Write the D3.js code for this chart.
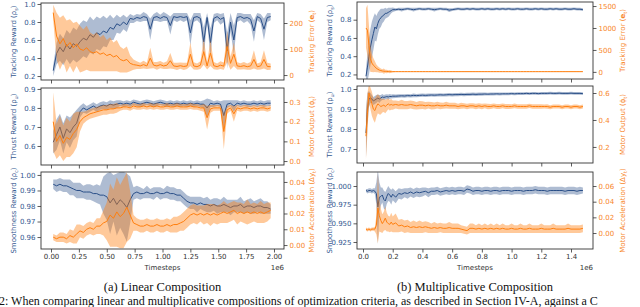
<!DOCTYPE html>
<html>
<head>
<meta charset="utf-8">
<script src="https://d3js.org/d3.v7.min.js"></script>
<style>
  body { margin: 0; background: #fff; }
  svg { display: block; }
  text { font-family: "DejaVu Sans", sans-serif; }
</style>
</head>
<body>
<svg id="chart" width="640" height="307"></svg>
<script>
// ---- sample grids (timesteps, in 1e6) ----
const linSteps = d3.range(0.02, 1.98, 0.03);                                        // 66 samples
const mulSteps = d3.range(0.02, 0.205, 0.01).concat(d3.range(0.22, 1.49, 0.02));   // 83 samples

// ---- (a) linear composition ----
const linTrackReward = [
  0.26, 0.45, 0.52, 0.47, 0.55, 0.50, 0.56, 0.53, 0.58, 0.62,
  0.60, 0.66, 0.63, 0.68, 0.66, 0.70, 0.68, 0.74, 0.72, 0.78,
  0.76, 0.80, 0.77, 0.84, 0.83, 0.85, 0.84, 0.86, 0.85, 0.72,
  0.85, 0.86, 0.84, 0.86, 0.85, 0.76, 0.86, 0.85, 0.86, 0.85,
  0.86, 0.68, 0.85, 0.86, 0.84, 0.58, 0.85, 0.57, 0.84, 0.86,
  0.83, 0.85, 0.48, 0.80, 0.60, 0.85, 0.86, 0.84, 0.85, 0.83,
  0.70, 0.86, 0.84, 0.72, 0.85, 0.86];
const linTrackRewardBand = [
  0.06, 0.12, 0.15, 0.15, 0.16, 0.17, 0.18, 0.18, 0.20, 0.20,
  0.20, 0.20, 0.19, 0.18, 0.18, 0.17, 0.16, 0.14, 0.12, 0.10,
  0.09, 0.08, 0.08, 0.05, 0.04, 0.04, 0.04, 0.05, 0.04, 0.12,
  0.04, 0.05, 0.04, 0.05, 0.04, 0.10, 0.04, 0.05, 0.04, 0.05,
  0.04, 0.14, 0.05, 0.04, 0.06, 0.16, 0.05, 0.16, 0.05, 0.04,
  0.06, 0.05, 0.20, 0.10, 0.16, 0.05, 0.04, 0.05, 0.04, 0.06,
  0.12, 0.04, 0.05, 0.12, 0.05, 0.04];
const linTrackError = [
  240, 150, 120, 140, 110, 125, 105, 120, 100, 95,
  105, 90, 85, 90, 80, 85, 75, 80, 70, 75,
  60, 55, 60, 45, 40, 38, 35, 40, 35, 65,
  38, 35, 40, 35, 38, 55, 35, 33, 36, 33,
  35, 80, 35, 32, 38, 90, 35, 85, 36, 32,
  38, 34, 110, 45, 80, 35, 33, 36, 32, 35,
  60, 32, 35, 60, 33, 32];
const linTrackErrorBand = [
  30, 90, 100, 90, 100, 90, 95, 85, 90, 80,
  85, 75, 70, 75, 65, 70, 60, 65, 55, 60,
  50, 45, 50, 30, 20, 15, 12, 15, 12, 40,
  12, 15, 14, 12, 15, 30, 12, 14, 12, 14,
  12, 45, 14, 12, 15, 50, 14, 50, 14, 12,
  15, 14, 60, 25, 45, 14, 12, 14, 12, 15,
  35, 12, 14, 35, 14, 12];
const linThrustReward = [
  0.62, 0.66, 0.70, 0.64, 0.69, 0.67, 0.70, 0.72, 0.78, 0.80,
  0.79, 0.80, 0.81, 0.80, 0.81, 0.815, 0.81, 0.82, 0.815, 0.82,
  0.825, 0.82, 0.825, 0.82, 0.83, 0.825, 0.82, 0.825, 0.83, 0.825,
  0.82, 0.825, 0.83, 0.825, 0.82, 0.825, 0.82, 0.825, 0.82, 0.825,
  0.82, 0.825, 0.82, 0.825, 0.82, 0.82, 0.80, 0.825, 0.82, 0.825,
  0.82, 0.76, 0.82, 0.825, 0.81, 0.825, 0.82, 0.825, 0.82, 0.82,
  0.825, 0.82, 0.825, 0.82, 0.825, 0.825];
const linThrustRewardBand = [
  0.06, 0.08, 0.07, 0.08, 0.07, 0.08, 0.07, 0.07, 0.03, 0.025,
  0.02, 0.02, 0.02, 0.02, 0.02, 0.02, 0.02, 0.02, 0.02, 0.02,
  0.015, 0.015, 0.015, 0.015, 0.015, 0.015, 0.015, 0.015, 0.015, 0.015,
  0.015, 0.015, 0.015, 0.015, 0.015, 0.015, 0.015, 0.015, 0.015, 0.015,
  0.015, 0.015, 0.015, 0.015, 0.015, 0.02, 0.05, 0.02, 0.015, 0.015,
  0.015, 0.08, 0.02, 0.015, 0.03, 0.015, 0.015, 0.015, 0.015, 0.015,
  0.015, 0.015, 0.015, 0.015, 0.015, 0.015];
const linMotorOutput = [
  0.20, 0.10, 0.13, 0.09, 0.12, 0.11, 0.14, 0.16, 0.20, 0.22,
  0.23, 0.24, 0.245, 0.25, 0.255, 0.26, 0.26, 0.265, 0.265, 0.27,
  0.27, 0.275, 0.275, 0.27, 0.28, 0.275, 0.275, 0.28, 0.275, 0.28,
  0.275, 0.28, 0.275, 0.275, 0.28, 0.275, 0.275, 0.28, 0.275, 0.275,
  0.275, 0.28, 0.275, 0.275, 0.27, 0.27, 0.22, 0.265, 0.27, 0.27,
  0.27, 0.15, 0.26, 0.27, 0.24, 0.27, 0.265, 0.27, 0.27, 0.265,
  0.27, 0.265, 0.27, 0.27, 0.265, 0.27];
const linMotorOutputBand = [
  0.15, 0.09, 0.10, 0.09, 0.10, 0.09, 0.10, 0.09, 0.05, 0.03,
  0.025, 0.025, 0.025, 0.025, 0.025, 0.025, 0.025, 0.025, 0.025, 0.025,
  0.015, 0.015, 0.015, 0.015, 0.015, 0.015, 0.015, 0.015, 0.015, 0.015,
  0.015, 0.015, 0.015, 0.015, 0.015, 0.015, 0.015, 0.015, 0.015, 0.015,
  0.015, 0.015, 0.015, 0.015, 0.015, 0.02, 0.06, 0.02, 0.015, 0.015,
  0.015, 0.09, 0.02, 0.015, 0.04, 0.015, 0.015, 0.015, 0.015, 0.015,
  0.015, 0.015, 0.015, 0.015, 0.015, 0.015];
const linSmoothReward = [
  0.994, 0.993, 0.994, 0.993, 0.993, 0.992, 0.991, 0.990, 0.990, 0.989,
  0.989, 0.989, 0.988, 0.988, 0.987, 0.987, 0.986, 0.982, 0.985, 0.981,
  0.984, 0.982, 0.979, 0.984, 0.988, 0.989, 0.988, 0.988, 0.989, 0.988,
  0.988, 0.989, 0.988, 0.988, 0.989, 0.988, 0.988, 0.987, 0.987, 0.985,
  0.983, 0.982, 0.982, 0.981, 0.982, 0.981, 0.981, 0.980, 0.981, 0.980,
  0.980, 0.981, 0.980, 0.979, 0.980, 0.980, 0.981, 0.979, 0.980, 0.980,
  0.979, 0.980, 0.980, 0.979, 0.979, 0.978];
const linSmoothRewardBand = [
  0.003, 0.004, 0.004, 0.004, 0.004, 0.005, 0.004, 0.005, 0.005, 0.004,
  0.005, 0.005, 0.005, 0.006, 0.006, 0.012, 0.015, 0.020, 0.015, 0.020,
  0.018, 0.020, 0.022, 0.015, 0.004, 0.004, 0.004, 0.003, 0.004, 0.003,
  0.004, 0.003, 0.004, 0.003, 0.004, 0.004, 0.004, 0.004, 0.004, 0.004,
  0.004, 0.004, 0.004, 0.005, 0.004, 0.004, 0.005, 0.004, 0.004, 0.005,
  0.004, 0.005, 0.004, 0.005, 0.004, 0.004, 0.005, 0.004, 0.004, 0.005,
  0.004, 0.004, 0.005, 0.004, 0.004, 0.003];
const linMotorAccel = [
  0.005, 0.004, 0.005, 0.005, 0.004, 0.006, 0.005, 0.007, 0.009, 0.008,
  0.010, 0.011, 0.010, 0.012, 0.012, 0.014, 0.015, 0.019, 0.017, 0.021,
  0.018, 0.020, 0.024, 0.019, 0.014, 0.013, 0.012, 0.012, 0.013, 0.012,
  0.012, 0.013, 0.012, 0.012, 0.013, 0.012, 0.013, 0.013, 0.014, 0.015,
  0.017, 0.019, 0.020, 0.019, 0.020, 0.019, 0.020, 0.019, 0.020, 0.019,
  0.020, 0.021, 0.020, 0.021, 0.022, 0.020, 0.021, 0.020, 0.021, 0.020,
  0.021, 0.020, 0.021, 0.020, 0.021, 0.022];
const linMotorAccelBand = [
  0.002, 0.002, 0.003, 0.003, 0.003, 0.004, 0.004, 0.006, 0.004, 0.004,
  0.004, 0.004, 0.004, 0.005, 0.005, 0.008, 0.012, 0.020, 0.018, 0.022,
  0.020, 0.022, 0.022, 0.015, 0.005, 0.004, 0.004, 0.004, 0.004, 0.004,
  0.004, 0.004, 0.004, 0.004, 0.004, 0.004, 0.005, 0.005, 0.005, 0.006,
  0.006, 0.006, 0.006, 0.006, 0.005, 0.006, 0.006, 0.007, 0.006, 0.006,
  0.006, 0.007, 0.006, 0.006, 0.006, 0.007, 0.006, 0.006, 0.008, 0.006,
  0.006, 0.006, 0.007, 0.006, 0.006, 0.005];

// ---- (b) multiplicative composition ----
const mulTrackReward = [
  0.18, 0.28, 0.40, 0.50, 0.58, 0.65, 0.72, 0.70, 0.76, 0.80,
  0.82, 0.84, 0.85, 0.87, 0.87, 0.88, 0.89, 0.90, 0.91,
  0.91, 0.915, 0.91, 0.915, 0.92, 0.915, 0.91, 0.915, 0.92, 0.915,
  0.915, 0.92, 0.915, 0.91, 0.915, 0.92, 0.915, 0.915, 0.905, 0.91,
  0.915, 0.92, 0.915, 0.915, 0.92, 0.915, 0.92, 0.915, 0.915, 0.92,
  0.915, 0.92, 0.915, 0.915, 0.92, 0.915, 0.92, 0.915, 0.92, 0.915,
  0.915, 0.92, 0.915, 0.915, 0.92, 0.915, 0.915, 0.92, 0.915, 0.92,
  0.915, 0.915, 0.92, 0.915, 0.92, 0.915, 0.915, 0.92, 0.915, 0.915,
  0.92, 0.915, 0.915, 0.91];
const mulTrackRewardBand = [
  0.08, 0.15, 0.20, 0.20, 0.20, 0.18, 0.15, 0.14, 0.12, 0.10,
  0.10, 0.08, 0.07, 0.06, 0.05, 0.05, 0.04, 0.03, 0.025,
  0.015, 0.015, 0.02, 0.015, 0.015, 0.015, 0.02, 0.015, 0.015, 0.015,
  0.015, 0.015, 0.015, 0.02, 0.015, 0.015, 0.015, 0.015, 0.02, 0.015,
  0.015, 0.015, 0.015, 0.015, 0.015, 0.015, 0.015, 0.015, 0.015, 0.015,
  0.015, 0.015, 0.015, 0.015, 0.015, 0.015, 0.015, 0.015, 0.015, 0.015,
  0.015, 0.015, 0.015, 0.015, 0.015, 0.015, 0.015, 0.015, 0.015, 0.015,
  0.015, 0.015, 0.015, 0.015, 0.015, 0.015, 0.015, 0.015, 0.015, 0.015,
  0.015, 0.015, 0.015, 0.015];
const mulTrackError = [
  1000, 950, 600, 300, 200, 150, 120, 80, 60, 40,
  30, 20, 15, 12, 10, 8, 6, 5, 5,
  5, 5, 5, 5, 5, 5, 5, 5, 5, 5,
  5, 5, 5, 5, 5, 5, 5, 5, 5, 5,
  5, 5, 5, 5, 5, 5, 5, 5, 5, 5,
  5, 5, 5, 5, 5, 5, 5, 5, 5, 5,
  5, 5, 5, 5, 5, 5, 5, 5, 5, 5,
  5, 5, 5, 5, 5, 5, 5, 5, 5, 5,
  5, 5, 5, 5];
const mulTrackErrorBand = [
  450, 580, 450, 300, 200, 160, 120, 90, 70, 60,
  50, 40, 60, 35, 40, 30, 35, 25, 15,
  6, 5, 5, 5, 5, 5, 5, 5, 5, 5,
  5, 5, 5, 5, 5, 5, 5, 5, 5, 5,
  5, 5, 5, 5, 5, 5, 5, 5, 5, 5,
  5, 5, 5, 5, 5, 5, 5, 5, 5, 5,
  5, 5, 5, 5, 5, 5, 5, 5, 5, 5,
  5, 5, 5, 5, 5, 5, 5, 5, 5, 5,
  5, 5, 5, 5];
const mulThrustReward = [
  0.78, 0.90, 0.95, 0.955, 0.95, 0.94, 0.945, 0.95, 0.955, 0.95,
  0.955, 0.96, 0.958, 0.96, 0.962, 0.96, 0.963, 0.962, 0.964,
  0.964, 0.965, 0.966, 0.965, 0.967, 0.966, 0.968, 0.967, 0.968, 0.969,
  0.968, 0.969, 0.970, 0.969, 0.970, 0.971, 0.970, 0.971, 0.972, 0.971,
  0.972, 0.972, 0.973, 0.972, 0.973, 0.973, 0.974, 0.973, 0.974, 0.974,
  0.975, 0.974, 0.975, 0.975, 0.976, 0.975, 0.976, 0.976, 0.976, 0.977,
  0.976, 0.977, 0.977, 0.977, 0.978, 0.977, 0.978, 0.978, 0.977, 0.978,
  0.978, 0.978, 0.979, 0.978, 0.978, 0.979, 0.978, 0.978, 0.978, 0.979,
  0.978, 0.978, 0.978, 0.977];
const mulThrustRewardBand = [
  0.12, 0.08, 0.04, 0.025, 0.02, 0.02, 0.02, 0.02, 0.018, 0.02,
  0.015, 0.015, 0.012, 0.012, 0.012, 0.012, 0.012, 0.010, 0.010,
  0.009, 0.009, 0.008, 0.009, 0.008, 0.008, 0.009, 0.008, 0.008, 0.008,
  0.008, 0.008, 0.008, 0.008, 0.008, 0.008, 0.008, 0.008, 0.008, 0.008,
  0.008, 0.008, 0.008, 0.008, 0.008, 0.008, 0.008, 0.008, 0.008, 0.008,
  0.007, 0.007, 0.007, 0.007, 0.007, 0.007, 0.007, 0.007, 0.007, 0.007,
  0.007, 0.007, 0.007, 0.007, 0.007, 0.007, 0.007, 0.007, 0.007, 0.007,
  0.007, 0.007, 0.007, 0.007, 0.007, 0.007, 0.007, 0.007, 0.007, 0.007,
  0.007, 0.007, 0.007, 0.007];
const mulMotorOutput = [
  0.28, 0.45, 0.60, 0.56, 0.52, 0.48, 0.47, 0.50, 0.52, 0.51,
  0.50, 0.505, 0.51, 0.50, 0.51, 0.52, 0.51, 0.515, 0.51,
  0.515, 0.51, 0.515, 0.51, 0.51, 0.515, 0.51, 0.505, 0.51, 0.51,
  0.505, 0.51, 0.505, 0.505, 0.51, 0.505, 0.505, 0.51, 0.505, 0.505,
  0.505, 0.50, 0.505, 0.505, 0.50, 0.505, 0.505, 0.50, 0.505, 0.50,
  0.505, 0.50, 0.50, 0.505, 0.50, 0.50, 0.505, 0.50, 0.50, 0.50,
  0.505, 0.50, 0.50, 0.50, 0.50, 0.505, 0.50, 0.50, 0.50, 0.50,
  0.50, 0.50, 0.495, 0.50, 0.50, 0.50, 0.495, 0.50, 0.50, 0.495,
  0.50, 0.50, 0.495, 0.50];
const mulMotorOutputBand = [
  0.17, 0.15, 0.07, 0.08, 0.09, 0.08, 0.09, 0.08, 0.07, 0.07,
  0.06, 0.05, 0.05, 0.05, 0.045, 0.04, 0.04, 0.04, 0.035,
  0.03, 0.03, 0.035, 0.03, 0.03, 0.03, 0.03, 0.028, 0.03, 0.028,
  0.028, 0.025, 0.028, 0.025, 0.025, 0.025, 0.022, 0.025, 0.022, 0.022,
  0.022, 0.02, 0.022, 0.02, 0.02, 0.02, 0.02, 0.02, 0.02, 0.02,
  0.018, 0.02, 0.018, 0.018, 0.018, 0.018, 0.018, 0.018, 0.018, 0.016,
  0.018, 0.016, 0.016, 0.016, 0.016, 0.016, 0.016, 0.016, 0.016, 0.016,
  0.015, 0.016, 0.015, 0.015, 0.015, 0.015, 0.015, 0.015, 0.015, 0.015,
  0.015, 0.015, 0.015, 0.015];
const mulSmoothReward = [
  0.994, 0.993, 0.994, 0.994, 0.993, 0.994, 0.993, 0.990, 0.972, 0.985,
  0.986, 0.988, 0.982, 0.980, 0.986, 0.990, 0.988, 0.985, 0.989,
  0.985, 0.990, 0.989, 0.991, 0.990, 0.992, 0.990, 0.992, 0.991, 0.992,
  0.993, 0.991, 0.993, 0.993, 0.994, 0.992, 0.993, 0.994, 0.993, 0.994,
  0.993, 0.994, 0.994, 0.993, 0.996, 0.995, 0.993, 0.994, 0.994, 0.993,
  0.994, 0.994, 0.993, 0.994, 0.994, 0.993, 0.994, 0.994, 0.994, 0.993,
  0.994, 0.994, 0.994, 0.993, 0.994, 0.994, 0.994, 0.995, 0.994, 0.994,
  0.994, 0.993, 0.994, 0.994, 0.994, 0.994, 0.994, 0.993, 0.994, 0.994,
  0.994, 0.993, 0.994, 0.994];
const mulSmoothRewardBand = [
  0.002, 0.003, 0.003, 0.003, 0.003, 0.003, 0.004, 0.015, 0.050, 0.020,
  0.012, 0.010, 0.012, 0.012, 0.010, 0.010, 0.009, 0.010, 0.008,
  0.008, 0.007, 0.007, 0.006, 0.007, 0.006, 0.006, 0.006, 0.006, 0.006,
  0.005, 0.006, 0.005, 0.005, 0.005, 0.005, 0.005, 0.005, 0.005, 0.005,
  0.005, 0.005, 0.005, 0.005, 0.005, 0.005, 0.005, 0.005, 0.005, 0.005,
  0.005, 0.005, 0.005, 0.005, 0.005, 0.005, 0.005, 0.005, 0.005, 0.005,
  0.005, 0.005, 0.005, 0.005, 0.005, 0.005, 0.005, 0.005, 0.005, 0.005,
  0.005, 0.005, 0.005, 0.005, 0.005, 0.005, 0.005, 0.005, 0.005, 0.005,
  0.005, 0.005, 0.005, 0.004];
const mulMotorAccel = [
  0.005, 0.004, 0.005, 0.004, 0.005, 0.005, 0.005, 0.010, 0.032, 0.022,
  0.016, 0.012, 0.015, 0.019, 0.014, 0.012, 0.011, 0.014, 0.011,
  0.013, 0.009, 0.010, 0.008, 0.009, 0.007, 0.008, 0.007, 0.008, 0.007,
  0.008, 0.007, 0.006, 0.007, 0.006, 0.007, 0.006, 0.006, 0.007, 0.006,
  0.006, 0.006, 0.005, 0.004, 0.003, 0.006, 0.006, 0.005, 0.006, 0.005,
  0.006, 0.005, 0.006, 0.005, 0.006, 0.005, 0.006, 0.005, 0.005, 0.006,
  0.005, 0.005, 0.006, 0.005, 0.005, 0.006, 0.005, 0.005, 0.005, 0.006,
  0.005, 0.005, 0.005, 0.006, 0.005, 0.005, 0.005, 0.005, 0.006, 0.005,
  0.005, 0.005, 0.005, 0.006];
const mulMotorAccelBand = [
  0.002, 0.002, 0.002, 0.002, 0.002, 0.002, 0.003, 0.012, 0.045, 0.020,
  0.015, 0.012, 0.012, 0.015, 0.012, 0.010, 0.010, 0.012, 0.010,
  0.012, 0.008, 0.008, 0.008, 0.008, 0.007, 0.008, 0.007, 0.008, 0.007,
  0.007, 0.007, 0.006, 0.007, 0.006, 0.006, 0.006, 0.006, 0.007, 0.006,
  0.006, 0.006, 0.005, 0.005, 0.005, 0.006, 0.006, 0.005, 0.006, 0.005,
  0.006, 0.005, 0.006, 0.005, 0.006, 0.005, 0.006, 0.005, 0.005, 0.006,
  0.005, 0.005, 0.006, 0.005, 0.005, 0.006, 0.005, 0.005, 0.005, 0.006,
  0.005, 0.005, 0.005, 0.006, 0.005, 0.005, 0.005, 0.005, 0.006, 0.005,
  0.005, 0.005, 0.005, 0.005];

// ---- axis titles ----
const labTrackReward = { pre: "Tracking Reward (", sym: "\u03c1", sub: "s" };
const labTrackError  = { pre: "Tracking Error (", sym: "e", sub: "t", bold: true };
const labThrust      = { pre: "Thrust Reward (", sym: "\u03c1", sub: "u" };
const labMotorOut    = { pre: "Motor Output (", sym: "\u03d5", sub: "t" };
const labSmooth      = { pre: "Smoothness Reward (", sym: "\u03c1", sub: "c" };
const labMotorAccel  = { pre: "Motor Acceleration (", sym: "\u0394y", sub: "t" };

// ---- colours ----
const BLUE = "#2a4f88";
const BLUE_TEXT = "#33578f";
const ORANGE = "#ff7f0e";
const ORANGE_TEXT = "#f8862a";
const FONT = 7;

// ---- layout of both sub-figures ----
const figures = [
  {
    steps: linSteps, x0: 41, x1: 284, xDomain: [-0.0897, 2.0897],
    xTicks: [0, 0.25, 0.5, 0.75, 1.0, 1.25, 1.5, 1.75, 2.0], xFmt: d3.format(".2f"),
    tops: [3, 88, 172], height: 77, leftTitleX: 16, rightTitleX: 314,
    caption: "(a) Linear Composition",
    panels: [
      { left:  { mean: linTrackReward, band: linTrackRewardBand, domain: [0.156, 1.011], ticks: [0.2, 0.4, 0.6, 0.8, 1.0], fmt: ".1f", label: labTrackReward },
        right: { mean: linTrackError, band: linTrackErrorBand, domain: [-19, 277], ticks: [0, 100, 200], fmt: "d", label: labTrackError } },
      { left:  { mean: linThrustReward, band: linThrustRewardBand, domain: [0.5, 0.905], ticks: [0.6, 0.7, 0.8, 0.9], fmt: ".1f", label: labThrust },
        right: { mean: linMotorOutput, band: linMotorOutputBand, domain: [-0.02, 0.371], ticks: [0.0, 0.1, 0.2, 0.3], fmt: ".1f", label: labMotorOut } },
      { left:  { mean: linSmoothReward, band: linSmoothRewardBand, domain: [0.9523, 1.0019], ticks: [0.96, 0.97, 0.98, 0.99, 1.0], fmt: ".2f", label: labSmooth },
        right: { mean: linMotorAccel, band: linMotorAccelBand, domain: [-0.0025, 0.0463], ticks: [0, 0.01, 0.02, 0.03, 0.04], fmt: ".2f", label: labMotorAccel } }
    ]
  },
  {
    steps: mulSteps, x0: 357, x1: 593, xDomain: [-0.0404, 1.548],
    xTicks: [0, 0.2, 0.4, 0.6, 0.8, 1.0, 1.2, 1.4], xFmt: d3.format(".1f"),
    tops: [2, 86, 172], height: 77, leftTitleX: 332, rightTitleX: 625,
    caption: "(b) Multiplicative Composition",
    panels: [
      { left:  { mean: mulTrackReward, band: mulTrackRewardBand, domain: [0.15, 0.994], ticks: [0.2, 0.4, 0.6, 0.8], fmt: ".1f", label: labTrackReward },
        right: { mean: mulTrackError, band: mulTrackErrorBand, domain: [-162, 1592], ticks: [0, 500, 1000, 1500], fmt: "d", label: labTrackError } },
      { left:  { mean: mulThrustReward, band: mulThrustRewardBand, domain: [0.63, 1.015], ticks: [0.7, 0.8, 0.9, 1.0], fmt: ".1f", label: labThrust },
        right: { mean: mulMotorOutput, band: mulMotorOutputBand, domain: [0.081, 0.652], ticks: [0.2, 0.4, 0.6], fmt: ".1f", label: labMotorOut } },
      { left:  { mean: mulSmoothReward, band: mulSmoothRewardBand, domain: [0.9156, 1.0188], ticks: [0.925, 0.95, 0.975, 1.0], fmt: ".3f", label: labSmooth },
        right: { mean: mulMotorAccel, band: mulMotorAccelBand, domain: [-0.0204, 0.0779], ticks: [0, 0.02, 0.04, 0.06], fmt: ".2f", label: labMotorAccel } }
    ]
  }
];

const svg = d3.select("#chart");

function axisTitle(x, cy, lab, color) {
  const t = svg.append("text")
      .attr("transform", `translate(${x},${cy}) rotate(-90)`)
      .attr("text-anchor", "middle")
      .attr("fill", color)
      .style("font-size", FONT + "px");
  t.append("tspan").text(lab.pre);
  t.append("tspan").text(lab.sym).style("font-weight", lab.bold ? "bold" : null);
  t.append("tspan").text(lab.sub).attr("dy", 1.6).style("font-size", "5px");
  t.append("tspan").text(")").attr("dy", -1.6);
}

function styleAxis(g, color) {
  g.select(".domain").remove();
  g.selectAll(".tick line").attr("stroke", "#333").attr("stroke-width", 0.8);
  g.selectAll(".tick text").attr("fill", color).style("font-size", FONT + "px")
      .style("font-family", '"DejaVu Sans", sans-serif');
}

let clipId = 0;
figures.forEach(fig => {
  const x = d3.scaleLinear().domain(fig.xDomain).range([fig.x0, fig.x1]);

  fig.panels.forEach((p, k) => {
    const top = fig.tops[k];
    const bottom = top + fig.height;
    const id = "clip" + (clipId++);
    svg.append("clipPath").attr("id", id)
      .append("rect").attr("x", fig.x0).attr("y", top)
      .attr("width", fig.x1 - fig.x0).attr("height", fig.height);

    const plot = svg.append("g").attr("clip-path", `url(#${id})`);

    [["left", BLUE, 0.38], ["right", ORANGE, 0.42]].forEach(([side, color, alpha]) => {
      const s = p[side];
      const y = d3.scaleLinear().domain(s.domain).range([bottom, top]);
      const rows = fig.steps.map((t, i) => ({ t, m: s.mean[i], b: s.band[i] }));

      plot.append("path")
        .datum(rows)
        .attr("fill", color)
        .attr("fill-opacity", alpha)
        .attr("d", d3.area().x(d => x(d.t)).y0(d => y(d.m - d.b)).y1(d => y(d.m + d.b)));

      plot.append("path")
        .datum(rows)
        .attr("fill", "none")
        .attr("stroke", color)
        .attr("stroke-width", 1.0)
        .attr("d", d3.line().x(d => x(d.t)).y(d => y(d.m)));

      const axis = side === "left"
        ? d3.axisLeft(y).tickValues(s.ticks).tickFormat(d3.format(s.fmt)).tickSize(3.5).tickPadding(2)
        : d3.axisRight(y).tickValues(s.ticks).tickFormat(d3.format(s.fmt)).tickSize(3.5).tickPadding(2);
      const g = svg.append("g")
        .attr("transform", `translate(${side === "left" ? fig.x0 : fig.x1},0)`)
        .call(axis);
      styleAxis(g, side === "left" ? BLUE_TEXT : ORANGE_TEXT);

      axisTitle(side === "left" ? fig.leftTitleX : fig.rightTitleX, (top + bottom) / 2,
                s.label, side === "left" ? BLUE_TEXT : ORANGE_TEXT);
    });

    // x axis (labels only on the lowest panel)
    const xAxis = d3.axisBottom(x).tickValues(fig.xTicks).tickSize(3.5).tickPadding(2)
      .tickFormat(k === fig.panels.length - 1 ? fig.xFmt : () => "");
    const gx = svg.append("g").attr("transform", `translate(0,${bottom})`).call(xAxis);
    styleAxis(gx, "#333");

    // frame
    svg.append("rect")
      .attr("x", fig.x0).attr("y", top)
      .attr("width", fig.x1 - fig.x0).attr("height", fig.height)
      .attr("fill", "none").attr("stroke", "#333").attr("stroke-width", 0.9);
  });

  const lastBottom = fig.tops[2] + fig.height;
  svg.append("text")
    .attr("x", (fig.x0 + fig.x1) / 2).attr("y", lastBottom + 21)
    .attr("text-anchor", "middle").attr("fill", "#333")
    .style("font-size", FONT + "px").text("Timesteps");
  svg.append("text")
    .attr("x", fig.x1).attr("y", lastBottom + 21)
    .attr("text-anchor", "end").attr("fill", "#333")
    .style("font-size", FONT + "px").text("1e6");

  svg.append("text")
    .attr("x", (fig.x0 + fig.x1) / 2).attr("y", 291)
    .attr("text-anchor", "middle").attr("fill", "#111")
    .style("font-family", '"Liberation Serif", serif').style("font-size", "12.5px")
    .text(fig.caption);
});

// first line of the figure caption, running into the bottom edge
svg.append("text")
  .attr("x", -1).attr("y", 305)
  .attr("fill", "#111")
  .style("font-family", '"Liberation Serif", serif').style("font-size", "12px")
  .text("2:  When comparing linear and multiplicative compositions of optimization criteria, as described in Section IV-A, against a C");
</script>
</body>
</html>
